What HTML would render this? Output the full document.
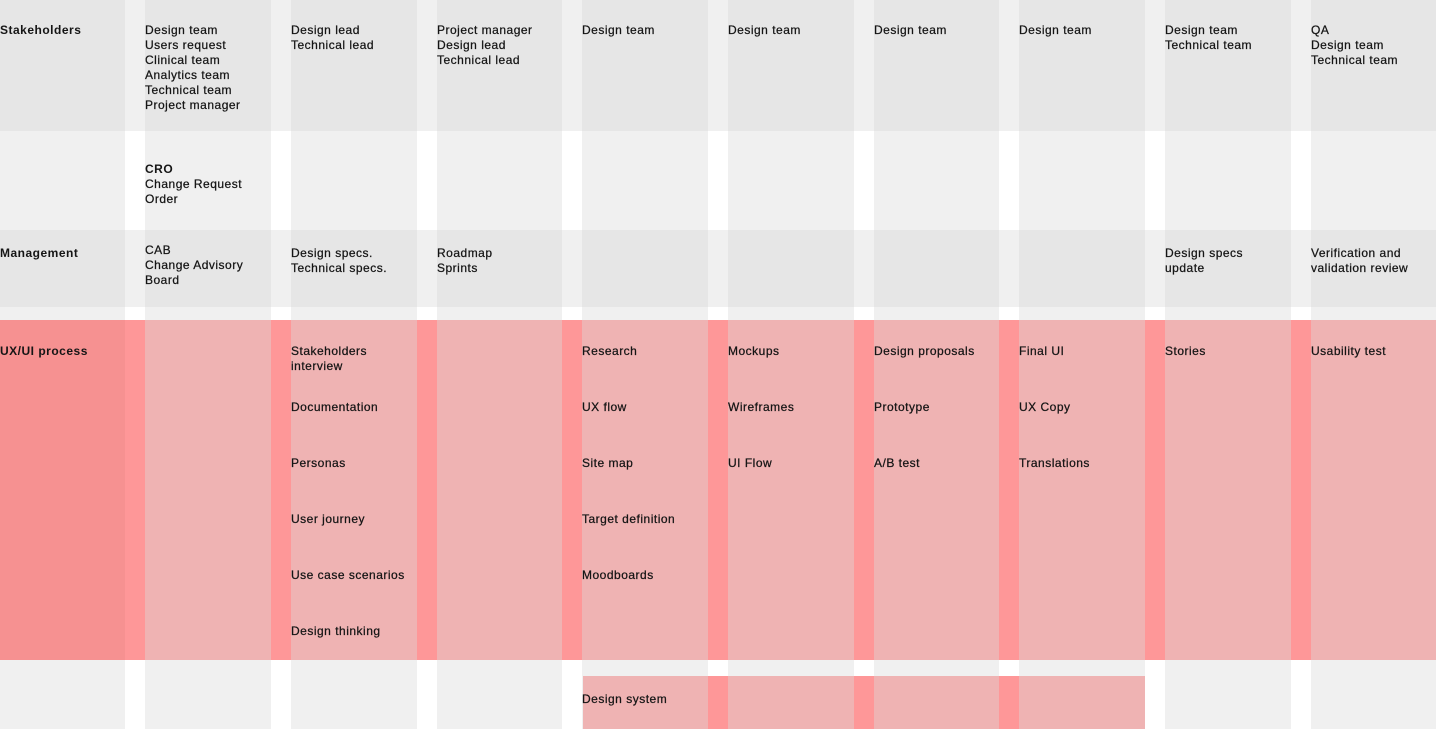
<!DOCTYPE html>
<html><head><meta charset="utf-8"><style>
body{margin:0;width:1436px;height:729px;overflow:hidden;background:#fff;position:relative;font-family:"Liberation Sans",sans-serif}
.b{position:absolute}
.t{position:absolute;font-size:12px;line-height:15px;letter-spacing:0.5px;color:#151515;-webkit-text-stroke:0.25px #151515;white-space:nowrap}
.h{font-weight:bold;-webkit-text-stroke:0}
</style></head><body>
<div id="root"></div>
<script>
const colL=[0,145,291,437,582,728,874,1019,1165,1311];
const colW=[125,126,126,125,126,126,125,126,126,125];
const root=document.body;
function box(x,y,w,h,c,name){const d=document.createElement('div');d.className='b';d.style.cssText=`left:${x}px;top:${y}px;width:${w}px;height:${h}px;background:${c}`;


root.appendChild(d);}
// columns
colL.forEach((x,i)=>box(x,0,colW[i],729,'#f0f0f0','column-'+i));
// grey rows
[[0,131],[230,77]].forEach(([y,h],r)=>{
  box(0,y,1436,h,'#f0f0f0','grey-row-gap-'+r);
  colL.forEach((x,i)=>box(x,y,colW[i],h,'#e6e6e6','grey-row-cell'));
});
// pink row
box(0,320,1436,340,'#fe9798','pink-row');
colL.forEach((x,i)=>box(x,320,colW[i],340,i==0?'#f69191':'#efb3b3','pink-row-cell'));
// design system band
box(583,676,562,53,'#fe9798','design-system-band');
[[583,125],[728,126],[874,125],[1019,126]].forEach(([x,w])=>box(x,676,w,53,'#efb3b3','design-system-cell'));
function txt(x,y,s,cls,name){const d=document.createElement('div');d.className='t '+(cls||'');d.style.left=x+'px';d.style.top=y+'px';d.innerHTML=s;


root.appendChild(d);}
txt(0,23,'Stakeholders','h','row-label-stakeholders');
txt(0,246,'Management','h','row-label-management');
txt(0,344,'UX/UI process','h','row-label-uxui');
const stake=['Design team<br>Users request<br>Clinical team<br>Analytics team<br>Technical team<br>Project manager','Design lead<br>Technical lead','Project manager<br>Design lead<br>Technical lead','Design team','Design team','Design team','Design team','Design team<br>Technical team','QA<br>Design team<br>Technical team'];
stake.forEach((s,i)=>txt(colL[i+1],23,s,'','stakeholders-cell'));
txt(145,162,'<b style="-webkit-text-stroke:0">CRO</b><br>Change Request<br>Order','','cro-cell');
const mgmt={1:'CAB<br>Change Advisory<br>Board',2:'Design specs.<br>Technical specs.',3:'Roadmap<br>Sprints',8:'Design specs<br>update',9:'Verification and<br>validation review'};
for(const k in mgmt)txt(colL[k],k==1?243:246,mgmt[k],'','management-cell');
const ux={2:['Stakeholders<br>interview','Documentation','Personas','User journey','Use case scenarios','Design thinking'],4:['Research','UX flow','Site map','Target definition','Moodboards'],5:['Mockups','Wireframes','UI Flow'],6:['Design proposals','Prototype','A/B test'],7:['Final UI','UX Copy','Translations'],8:['Stories'],9:['Usability test']};
for(const k in ux)ux[k].forEach((s,j)=>txt(colL[k]+(k==6?0:0),344+56*j,s,'','ux-item'));
txt(582,692,'Design system','','design-system-label');
</script>
</body></html>
